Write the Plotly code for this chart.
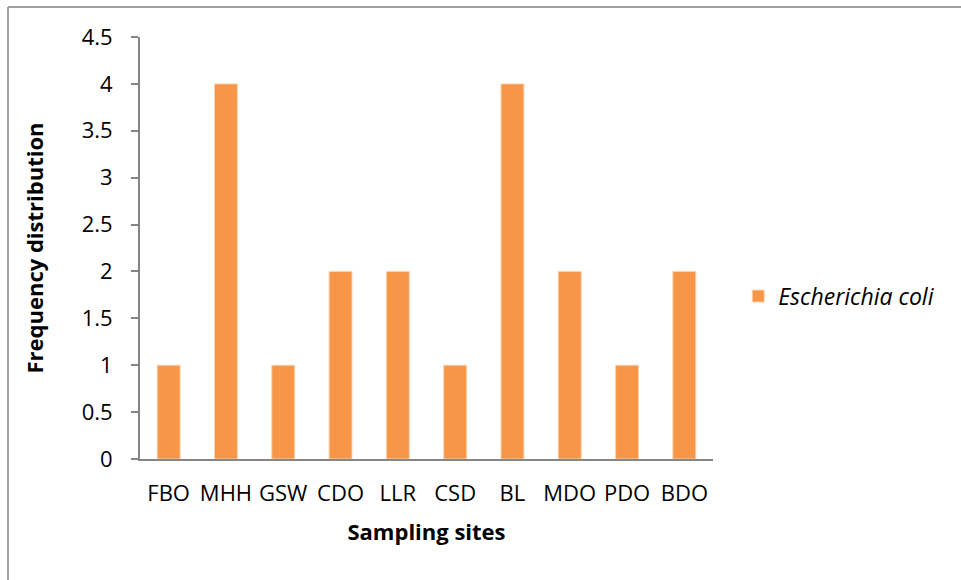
import plotly.graph_objects as go

# Sampling sites and E. coli isolate counts per site
sites = ["FBO", "MHH", "GSW", "CDO", "LLR", "CSD", "BL", "MDO", "PDO", "BDO"]
ecoli_counts = [1, 4, 1, 2, 2, 1, 4, 2, 1, 2]
y_ticks = [0, 0.5, 1, 1.5, 2, 2.5, 3, 3.5, 4, 4.5]
y_tick_text = ["0", "0.5", "1", "1.5", "2", "2.5", "3", "3.5", "4", "4.5"]

FONT = "Open Sans"
ORANGE = "#F79646"
AXIS_GRAY = "#868686"

fig = go.Figure()
fig.add_trace(go.Bar(
    x=sites,
    y=ecoli_counts,
    name="<i>Escherichia coli</i>",
    marker=dict(color=ORANGE, line=dict(color="#FAD3B3", width=1)),
))

fig.update_layout(
    width=961,
    height=580,
    margin=dict(l=140, r=248, t=37, b=121),
    paper_bgcolor="white",
    plot_bgcolor="white",
    bargap=0.6,
    font=dict(family=FONT, color="black"),
    showlegend=True,
    legend=dict(
        x=1.044, y=0.386, xanchor="left", yanchor="middle",
        font=dict(family=FONT, size=23, color="black"),
        bgcolor="rgba(0,0,0,0)",
    ),
    xaxis=dict(
        showline=True, linecolor=AXIS_GRAY, linewidth=2,
        ticks="", showgrid=False,
        ticklabelstandoff=14,
        tickfont=dict(family=FONT, size=22, color="black"),
        title=dict(text="<b>Sampling sites</b>", font=dict(family=FONT, size=22, color="black"), standoff=18),
    ),
    yaxis=dict(
        range=[0, 4.5],
        tickvals=y_ticks, ticktext=y_tick_text,
        showline=True, linecolor=AXIS_GRAY, linewidth=2,
        ticks="outside", ticklen=7, tickcolor=AXIS_GRAY, tickwidth=2,
        showgrid=False, zeroline=False,
        ticklabelstandoff=14,
        tickfont=dict(family=FONT, size=22, color="black"),
        title=dict(text="<b>Frequency distribution</b>", font=dict(family=FONT, size=22, color="black"), standoff=32),
    ),
    shapes=[
        # outer chart frame (left and top edges visible)
        dict(type="line", xref="paper", yref="paper",
             x0=-132 / 573, x1=-132 / 573, y0=-121 / 422, y1=1 + 30 / 422,
             line=dict(color="#A0A0A0", width=2)),
        dict(type="line", xref="paper", yref="paper",
             x0=-132 / 573, x1=1 + 248 / 573, y0=1 + 30 / 422, y1=1 + 30 / 422,
             line=dict(color="#A0A0A0", width=2)),
    ],
)

fig.write_html("out.html")
